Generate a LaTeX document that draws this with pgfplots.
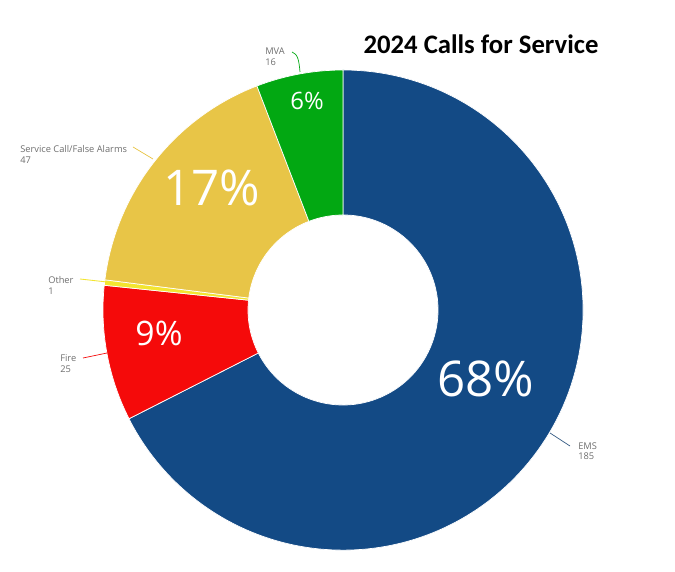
\documentclass[border=0pt]{standalone}
\usepackage{fontspec}
\setmainfont{Open Sans}
\newfontfamily\titlefont{Carlito}
\usepackage{pgfplots}
\pgfplotsset{compat=1.18}

\definecolor{emsblue}{HTML}{134A85}
\definecolor{firered}{HTML}{F50A0A}
\definecolor{otheryel}{HTML}{F3E530}
\definecolor{svcyel}{HTML}{E8C547}
\definecolor{mvagreen}{HTML}{02A812}
\definecolor{lblgray}{HTML}{6E6E6E}

% slice{cumulative start}{count}{colour}; total calls = 274
\newcommand\slice[3]{%
  \fill[#3, draw=white, line width=0.5pt]
    (axis cs:{343+240*cos(90-#1/274*360)},{261+240*sin(90-#1/274*360)})
    arc[start angle={90-#1/274*360}, end angle={90-(#1+#2)/274*360}, radius=6cm]
    -- (axis cs:{343+95*cos(90-(#1+#2)/274*360)},{261+95*sin(90-(#1+#2)/274*360)})
    arc[start angle={90-(#1+#2)/274*360}, end angle={90-#1/274*360}, radius=2.375cm]
    -- cycle;}

\tikzset{lbl/.style={lblgray, anchor=north west, inner sep=0, align=left,
  font=\fontsize{6.6}{7.8}\selectfont}}

\begin{document}
\begin{tikzpicture}
\begin{axis}[
    x=0.025cm, y=0.025cm,
    xmin=0, xmax=675, ymin=0, ymax=571,
    hide axis, clip=false
]
\path (axis cs:0,0) (axis cs:675,571);

% EMS 185, Fire 25, Other 1, Service Call/False Alarms 47, MVA 16
\slice{0}{185}{emsblue}
\slice{185}{25}{firered}
\slice{210}{1}{otheryel}
\slice{211}{47}{svcyel}
\slice{258}{16}{mvagreen}

% percentages
\node[white, font=\fontsize{35}{35}\selectfont] at (axis cs:486,192) {68\%};
\node[white, font=\fontsize{35}{35}\selectfont] at (axis cs:212,383) {17\%};
\node[white, font=\fontsize{24}{24}\selectfont] at (axis cs:159,238) {9\%};
\node[white, font=\fontsize{17}{17}\selectfont] at (axis cs:307,470) {6\%};

% leader lines
\draw[svcyel, line width=0.5pt] (axis cs:133,424) -- (axis cs:153,412);
\draw[otheryel, line width=0.6pt] (axis cs:80,292) -- (axis cs:107,289);
\draw[firered, line width=0.5pt] (axis cs:83,213) -- (axis cs:107,218);
\draw[emsblue!70!gray, line width=0.5pt] (axis cs:550,138) -- (axis cs:570,125);
\draw[mvagreen, line width=0.5pt] (axis cs:292,519) .. controls (axis cs:298,517) and (axis cs:299,510) .. (axis cs:300,499);

% outside labels
\node[lbl] at (axis cs:265,523) {MVA\\16};
\node[lbl] at (axis cs:20,426) {Service Call/False Alarms\\47};
\node[lbl] at (axis cs:48,295) {Other\\1};
\node[lbl] at (axis cs:60,217) {Fire\\25};
\node[lbl] at (axis cs:578,129) {EMS\\185};

% title
\node[font=\titlefont\bfseries\fontsize{19}{19}\selectfont] at (axis cs:481,527) {2024 Calls for Service};
\end{axis}
\end{tikzpicture}
\end{document}
